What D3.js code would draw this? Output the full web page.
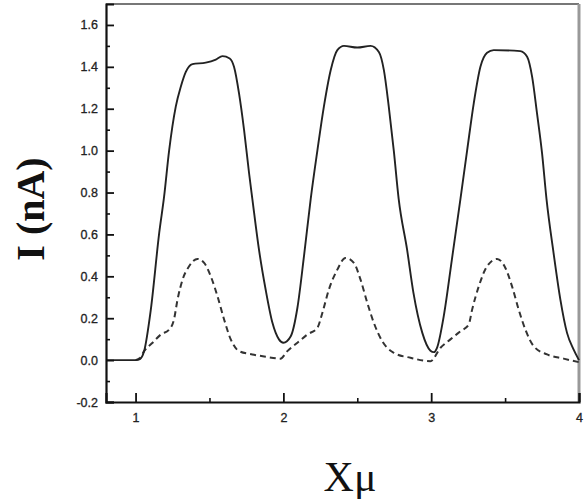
<!DOCTYPE html>
<html>
<head>
<meta charset="utf-8">
<script src="https://cdn.jsdelivr.net/npm/d3@7"></script>
<style>
  html, body { margin: 0; padding: 0; background: #fff; }
  svg { display: block; }
</style>
</head>
<body>
<svg id="chart" width="587" height="499"></svg>
<script>
// Current I (nA) against position X (µm): total current (solid) and component (dashed)
const solidX = [0.8, 1.0, 1.03, 1.058, 1.103, 1.16, 1.193, 1.227, 1.272, 1.306, 1.34, 1.385, 1.475, 1.543, 1.588, 1.637, 1.666, 1.70, 1.734, 1.768, 1.79, 1.835, 1.88, 1.926, 1.97, 2.0, 2.05, 2.095, 2.14, 2.185, 2.23, 2.274, 2.32, 2.365, 2.41, 2.50, 2.59, 2.646, 2.68, 2.713, 2.747, 2.78, 2.837, 2.88, 2.94, 2.995, 3.018, 3.04, 3.085, 3.14, 3.198, 3.243, 3.288, 3.333, 3.378, 3.423, 3.603, 3.649, 3.683, 3.716, 3.75, 3.78, 3.828, 3.874, 3.919, 3.963, 4.0];
const solidI = [0, 0, 0.005, 0.043, 0.24, 0.607, 0.78, 1.0, 1.21, 1.305, 1.376, 1.413, 1.42, 1.435, 1.451, 1.44, 1.40, 1.273, 1.099, 0.892, 0.77, 0.527, 0.337, 0.178, 0.099, 0.083, 0.114, 0.25, 0.50, 0.77, 1.0, 1.21, 1.384, 1.48, 1.50, 1.492, 1.50, 1.471, 1.384, 1.21, 1.0, 0.77, 0.527, 0.321, 0.13, 0.045, 0.038, 0.06, 0.21, 0.48, 0.77, 1.0, 1.226, 1.40, 1.467, 1.48, 1.475, 1.448, 1.352, 1.178, 0.988, 0.77, 0.511, 0.289, 0.13, 0.051, 0.0];

const dashX = [1.0, 1.03, 1.058, 1.115, 1.171, 1.227, 1.26, 1.284, 1.318, 1.362, 1.419, 1.464, 1.509, 1.554, 1.599, 1.644, 1.70, 1.79, 1.88, 1.98, 2.027, 2.095, 2.162, 2.23, 2.264, 2.308, 2.365, 2.42, 2.477, 2.522, 2.568, 2.612, 2.669, 2.747, 2.86, 2.995, 3.063, 3.13, 3.198, 3.254, 3.277, 3.322, 3.378, 3.446, 3.502, 3.547, 3.592, 3.637, 3.693, 3.784, 3.896, 4.0];
const dashI = [0, 0.01, 0.043, 0.083, 0.122, 0.146, 0.194, 0.289, 0.384, 0.448, 0.483, 0.464, 0.40, 0.305, 0.194, 0.099, 0.043, 0.027, 0.016, 0.007, 0.043, 0.083, 0.122, 0.154, 0.226, 0.337, 0.432, 0.488, 0.464, 0.384, 0.273, 0.178, 0.09, 0.035, 0.011, -0.005, 0.059, 0.099, 0.138, 0.17, 0.241, 0.352, 0.448, 0.483, 0.44, 0.352, 0.241, 0.146, 0.067, 0.027, 0.007, -0.01];

const xTicks = [1, 2, 3, 4];
const xTickLabels = ["1", "2", "3", "4"];
const xMinorTicks = [1.5, 2.5, 3.5];
const yTicks = [-0.2, 0.0, 0.2, 0.4, 0.6, 0.8, 1.0, 1.2, 1.4, 1.6];
const yTickLabels = ["-0.2", "0.0", "0.2", "0.4", "0.6", "0.8", "1.0", "1.2", "1.4", "1.6"];
const yMinorTicks = [-0.1, 0.1, 0.3, 0.5, 0.7, 0.9, 1.1, 1.3, 1.5];

const margin = { left: 106, right: 8, top: 4, bottom: 97 };
const W = 587, H = 499;
const svg = d3.select("#chart");

const x = d3.scaleLinear().domain([0.8, 4]).range([margin.left, W - margin.right]);
const y = d3.scaleLinear().domain([-0.2, 1.7]).range([H - margin.bottom, margin.top]);

const ink = "#222";

// upper and right frame edges (lighter)
svg.append("line")
  .attr("x1", x(0.8)).attr("x2", x(4)).attr("y1", y(1.7)).attr("y2", y(1.7))
  .attr("stroke", "#777").attr("stroke-width", 2);
svg.append("line")
  .attr("x1", x(4)).attr("x2", x(4)).attr("y1", y(1.7)).attr("y2", y(-0.2))
  .attr("stroke", "#999").attr("stroke-width", 3);

// curves
const line = d3.line()
  .x(d => x(d[0])).y(d => y(d[1]))
  .curve(d3.curveMonotoneX);

svg.append("path")
  .datum(dashX.map((v, i) => [v, dashI[i]]))
  .attr("d", line)
  .attr("fill", "none").attr("stroke", "#333")
  .attr("stroke-width", 2)
  .attr("stroke-dasharray", "6,4");

svg.append("path")
  .datum(solidX.map((v, i) => [v, solidI[i]]))
  .attr("d", line)
  .attr("fill", "none").attr("stroke", ink)
  .attr("stroke-width", 1.9)
  .attr("stroke-linejoin", "round");

// axes with inward ticks
const tickFont = "'Liberation Sans', Arial, Helvetica, sans-serif";

const yAxis = svg.append("g")
  .attr("transform", `translate(${margin.left},0)`)
  .call(d3.axisLeft(y).tickValues(yTicks).tickFormat((d, i) => yTickLabels[i])
    .tickSize(-8).tickPadding(8));
const yMinor = svg.append("g")
  .attr("transform", `translate(${margin.left},0)`)
  .call(d3.axisLeft(y).tickValues(yMinorTicks).tickFormat("").tickSize(-4));
yMinor.select(".domain").remove();

const xAxis = svg.append("g")
  .attr("transform", `translate(0,${H - margin.bottom})`)
  .call(d3.axisBottom(x).tickValues(xTicks).tickFormat((d, i) => xTickLabels[i])
    .tickSize(-9).tickPadding(11));
const xMinor = svg.append("g")
  .attr("transform", `translate(0,${H - margin.bottom})`)
  .call(d3.axisBottom(x).tickValues(xMinorTicks).tickFormat("").tickSize(-4));
xMinor.select(".domain").remove();

[yAxis, xAxis].forEach(g => {
  g.select(".domain").attr("stroke", "#111").attr("stroke-width", 2.2);
  g.selectAll(".tick line").attr("stroke", "#111").attr("stroke-width", 1.8);
  g.selectAll(".tick text")
    .attr("fill", "#222")
    .attr("stroke", "#222").attr("stroke-width", 0.3)
    .style("font-family", tickFont)
    .style("font-size", "12.5px");
});
[yMinor, xMinor].forEach(g => {
  g.selectAll(".tick line").attr("stroke", "#111").attr("stroke-width", 1.6);
});

// axis titles
svg.append("text")
  .attr("transform", "translate(44,209) rotate(-90)")
  .attr("text-anchor", "middle")
  .style("font-family", "'Liberation Serif', 'Times New Roman', serif")
  .style("font-weight", "bold")
  .style("font-size", "40px")
  .attr("fill", "#111")
  .text("I (nA)");

svg.append("text")
  .attr("x", 350).attr("y", 491)
  .attr("text-anchor", "middle")
  .style("font-family", "'Liberation Serif', 'Times New Roman', serif")
  .style("font-size", "42px")
  .attr("fill", "#111")
  .text("Xμ");
</script>
</body>
</html>
